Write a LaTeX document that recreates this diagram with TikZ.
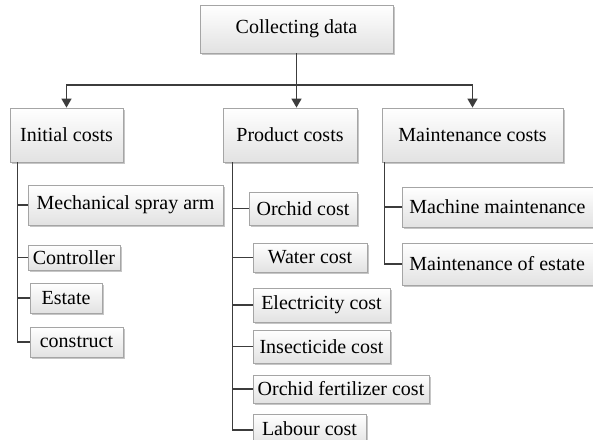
\documentclass[tikz,border=0pt]{standalone}
\usepackage{fontspec}
\setmainfont{Liberation Serif}
\usetikzlibrary{arrows.meta,shadows}
\definecolor{boxline}{RGB}{165,165,165}
\definecolor{boxfill}{RGB}{226,226,226}
\definecolor{linkgray}{RGB}{60,60,60}
\tikzset{
  cbox/.style={draw=boxline, line width=0.8pt, top color=white, bottom color=boxfill,
    inner sep=0pt, font=\fontsize{20}{24}\selectfont,
    drop shadow={shadow xshift=1.6pt, shadow yshift=-1.6pt, fill=gray, opacity=0.45}},
  link/.style={draw=linkgray, line width=1.5pt},
  tip/.style={-{Triangle[width=10pt,length=9pt]}}
}

\begin{document}
\begin{tikzpicture}[x=1pt,y=-1pt]
\useasboundingbox (0,0) rectangle (593,439);
\clip (0,0) rectangle (593,439);

%Top box
\node[cbox, minimum width=193pt, minimum height=48pt] (coll) at (296.5,29) {Collecting data};

%Level 1
\node[cbox, minimum width=113pt, minimum height=54pt] (ini) at (66.5,135) {Initial costs};
\node[cbox, minimum width=134pt, minimum height=54pt] (prod) at (290,135) {Product costs};
\node[cbox, minimum width=181pt, minimum height=54pt] (maint) at (472.5,135) {Maintenance costs};

%Initial costs items
\node[cbox, minimum width=195pt, minimum height=40pt] (mech) at (125.5,205) {Mechanical spray arm};
\node[cbox, minimum width=92pt, minimum height=25pt] (ctrl) at (74,257.5) {Controller};
\node[cbox, minimum width=72pt, minimum height=30pt] (est) at (66,298) {Estate};
\node[cbox, minimum width=93pt, minimum height=30pt] (cons) at (76.5,342) {construct};

%Product costs items
\node[cbox, minimum width=108pt, minimum height=33pt] (orc) at (303,208.5) {Orchid cost};
\node[cbox, minimum width=114pt, minimum height=29pt] (wat) at (310,257.5) {Water cost};
\node[cbox, minimum width=137pt, minimum height=34pt] (ele) at (321.5,305) {Electricity cost};
\node[cbox, minimum width=137pt, minimum height=33pt] (ins) at (321.5,346.5) {Insecticide cost};
\node[cbox, minimum width=176pt, minimum height=28pt] (fer) at (341,389) {Orchid fertilizer cost};
\node[cbox, minimum width=113pt, minimum height=32pt] (lab) at (309.5,430) {\raisebox{2pt}{Labour cost}};

%Maintenance costs items
\node[cbox, anchor=west, text width=191pt, inner xsep=7pt, align=flush left, minimum height=40pt] (mach) at (402,207) {Machine maintenance};
\node[cbox, anchor=west, text width=191pt, inner xsep=7pt, align=flush left, minimum height=42pt] (mest) at (402,264) {Maintenance of estate};

%Arrows
\coordinate (bar) at (296.5,85);
\draw[link] (coll.south) -- (bar);
\draw[link,tip] (bar) -| (ini.north);
\draw[link,tip] (bar) -| (maint.north);
\draw[link,tip] (bar) -- (bar |- prod.north);

%Branches
\foreach \c in {mech,ctrl,est,cons}
  \draw[link] ([xshift=8pt]ini.south west) |- (\c.west);
\foreach \c in {orc,wat,ele,ins,fer,lab}
  \draw[link] ([xshift=10pt]prod.south west) |- (\c.west);
\foreach \c in {mach,mest}
  \draw[link] ([xshift=3pt]maint.south west) |- (\c.west);

\end{tikzpicture}
\end{document}
